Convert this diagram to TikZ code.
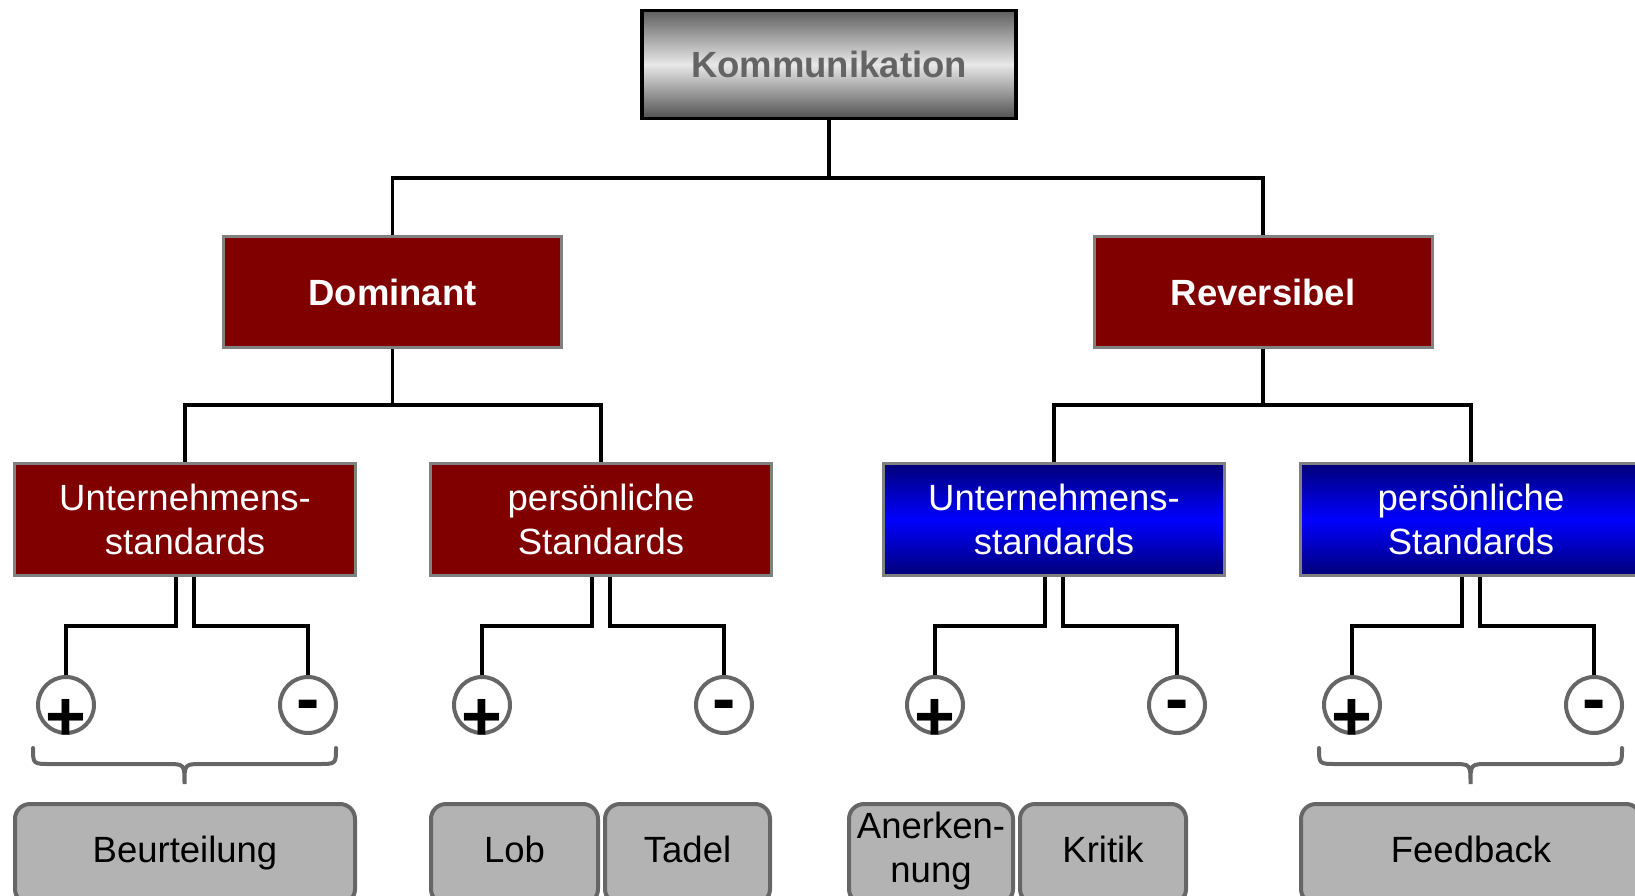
\documentclass[tikz,border=0pt]{standalone}
\usepackage{fontspec}
\setmainfont{Liberation Sans}
\definecolor{boxred}{RGB}{128,0,0}
\definecolor{boxedge}{RGB}{128,128,128}
\definecolor{navy}{RGB}{0,0,120}
\definecolor{brightblue}{RGB}{0,0,255}
\definecolor{greydark}{RGB}{95,95,95}
\definecolor{greylight}{RGB}{232,232,232}
\definecolor{titletext}{RGB}{100,100,100}
\definecolor{leafgrey}{RGB}{179,179,179}
\definecolor{leafedge}{RGB}{102,102,102}
\begin{document}
\begin{tikzpicture}[x=1pt,y=-1pt,
  conn/.style={line width=3.5pt, black},
  txt/.style={inner sep=0pt, align=center, font=\fontsize{36.5}{44}\selectfont},
  titlebox/.style={txt, draw=black, line width=3.5pt, top color=greydark, bottom color=greydark!85!black, middle color=greylight, text=titletext, font=\bfseries\fontsize{36.5}{44}\selectfont, minimum width=374pt, minimum height=108pt},
  redbox/.style={txt, draw=boxedge, line width=3pt, fill=boxred, text=white},
  bluebox/.style={txt, draw=boxedge, line width=3pt, top color=navy, bottom color=navy, middle color=brightblue, text=white},
  mainbox/.style={minimum width=338pt, minimum height=111pt, font=\bfseries\fontsize{36.5}{44}\selectfont},
  subbox/.style={minimum width=341pt, minimum height=112pt},
  leaf/.style={txt, draw=leafedge, line width=4pt, fill=leafgrey, rounded corners=15pt, minimum height=100pt, text=black, execute at begin node=\strut},
  circ/.style={circle, draw=leafedge, line width=4pt, fill=white, minimum size=56pt, inner sep=0pt},
  sign/.style={anchor=base, inner sep=0pt, font=\bfseries\fontsize{70}{70}\selectfont},
  brace/.style={draw=leafedge, line width=4pt, line cap=round}]
\useasboundingbox (0,0) rectangle (1635,896);
\clip (0,0) rectangle (1635,896);

% rows of the elbow connectors
\coordinate (h1) at (0,178);
\coordinate (h2) at (0,405);
\coordinate (h3) at (0,626);

% top
\node[titlebox] (top) at (829,64.5) {Kommunikation};

% second level
\node[redbox, mainbox] (dom) at (392.5,292) {Dominant};
\node[redbox, mainbox] (rev) at (1263,292) {Reversibel};

% third level
\node[redbox, subbox] (u1) at (185,519.5) {Unternehmens-\\standards};
\node[redbox, subbox] (p1) at (601,519.5) {persönliche\\Standards};
\node[bluebox, subbox] (u2) at (1054,519.5) {Unternehmens-\\standards};
\node[bluebox, subbox] (p2) at (1471,519.5) {persönliche\\Standards};

% tree connectors
\draw[conn] (top.south) -- (top.south |- h1) -| (dom.north);
\draw[conn] (top.south |- h1) -| (rev.north);
\draw[conn] (dom.south) -- (dom.south |- h2) -| (u1.north);
\draw[conn] (dom.south |- h2) -| (p1.north);
\draw[conn] (rev.south) -- (rev.south |- h2) -| (u2.north);
\draw[conn] (rev.south |- h2) -| (p2.north);

% plus / minus circles
\foreach \n/\cx in {1/185, 2/601, 3/1054, 4/1471} {
  \node[circ] (plus\n) at (\cx-119,705) {};
  \node[circ] (minus\n) at (\cx+123,705) {};
}
\foreach \n/\b in {1/u1, 2/p1, 3/u2, 4/p2} {
  \coordinate (\b l) at ([xshift=-9pt]\b.south);
  \coordinate (\b r) at ([xshift=9pt]\b.south);
  \draw[conn] (\b l) -- (\b l |- h3) -| (plus\n.north);
  \draw[conn] (\b r) -- (\b r |- h3) -| (minus\n.north);
}
\foreach \n in {1,...,4} {
  \node[sign] (plussign\n) at ([yshift=-35pt]plus\n.center) {+};
  \node[sign] (minussign\n) at ([yshift=-17pt]minus\n.center) {-};
}

% braces
\draw[brace] (33,748) .. controls (33,764) .. (51,764) -- (166.5,764)
  .. controls (184.5,764) .. (184.5,784) .. controls (184.5,764) .. (202.5,764)
  -- (318,764) .. controls (336,764) .. (336,748);
\draw[brace] (1319,748) .. controls (1319,764) .. (1337,764) -- (1452.5,764)
  .. controls (1470.5,764) .. (1470.5,784) .. controls (1470.5,764) .. (1488.5,764)
  -- (1604,764) .. controls (1622,764) .. (1622,748);

% leaves
\node[leaf, minimum width=340pt] (beur) at (185,854) {Beurteilung};
\node[leaf, minimum width=167pt] (lob) at (514.5,854) {Lob};
\node[leaf, minimum width=165pt] (tadel) at (687.5,854) {Tadel};
\node[leaf, minimum width=164pt] (aner) at (931,854) {Anerken-\\nung};
\node[leaf, minimum width=166pt] (kritik) at (1103,854) {Kritik};
\node[leaf, minimum width=340pt] (feed) at (1471,854) {Feedback};
\end{tikzpicture}
\end{document}
